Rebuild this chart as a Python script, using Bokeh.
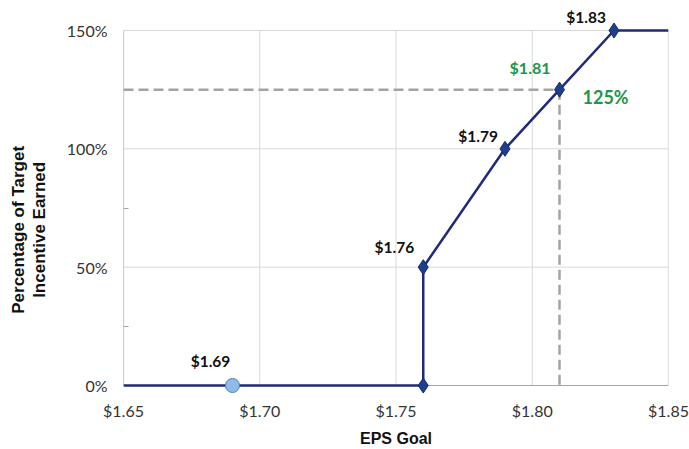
from bokeh.plotting import figure
from bokeh.models import Range1d, FixedTicker
from bokeh.core.properties import value
from bokeh.embed import file_html
from bokeh.resources import INLINE

# Data
curve_eps = [1.65, 1.69, 1.76, 1.76, 1.79, 1.81, 1.83, 1.85]
curve_pct = [0, 0, 0, 50, 100, 125, 150, 150]
diamond_eps = [1.76, 1.76, 1.79, 1.81, 1.83]
diamond_pct = [0, 50, 100, 125, 150]
threshold_eps = [1.69]
threshold_pct = [0]
label_eps = [1.69, 1.76, 1.79, 1.83]
label_pct = [0, 50, 100, 150]
label_text = ["$1.69", "$1.76", "$1.79", "$1.83"]
target_eps = 1.81
target_pct = 125
x_ticks = [1.65, 1.70, 1.75, 1.80, 1.85]
x_tick_labels = ["$1.65", "$1.70", "$1.75", "$1.80", "$1.85"]
y_ticks = [0, 50, 100, 150]
y_tick_labels = ["0%", "50%", "100%", "150%"]
y_minor = [25, 75, 125]
y_title_lines = ["Percentage of Target", "Incentive Earned"]
x_title = "EPS Goal"

# layout (pixels)
W, H = 689, 449
frame_left, frame_right = 123, 668
y0_px, y150_px = 385, 30
frame_top, frame_bottom = 8, 394
ppu = (y0_px - y150_px) / (y_ticks[-1] - y_ticks[0])
pad_top = (y150_px - frame_top) / ppu
pad_bot = (frame_bottom - y0_px) / ppu

p = figure(width=W, height=H, output_backend="svg", toolbar_location=None,
           x_range=Range1d(x_ticks[0], x_ticks[-1]),
           y_range=Range1d(y_ticks[0] - pad_bot, y_ticks[-1] + pad_top),
           min_border_left=frame_left, min_border_right=W - frame_right,
           min_border_top=frame_top, min_border_bottom=H - frame_bottom)
p.background_fill_color = "white"
p.border_fill_color = "white"
p.outline_line_color = None
p.grid.visible = False

# axes
p.xaxis.ticker = FixedTicker(ticks=x_ticks)
p.xaxis.major_label_overrides = {t: l for t, l in zip(x_ticks, x_tick_labels)}
p.yaxis.ticker = FixedTicker(ticks=y_ticks, minor_ticks=y_minor)
p.yaxis.major_label_overrides = {t: l for t, l in zip(y_ticks, y_tick_labels)}
for ax in (p.xaxis[0], p.yaxis[0]):
    ax.major_tick_in = 0
    ax.major_tick_out = 0
    ax.axis_line_color = None
    ax.major_label_text_font = "Lato"
    ax.major_label_text_font_size = "16px"
    ax.major_label_text_color = "#333333"
    ax.axis_label_text_font = "Liberation Sans"
    ax.axis_label_text_font_style = "bold"
    ax.axis_label_text_color = "#111111"
p.xaxis.axis_label_text_font_size = "16px"
p.yaxis.axis_label_text_font_size = "17px"
p.yaxis.axis_label_text_line_height = 1.1
p.xaxis.minor_tick_in = 0
p.xaxis.minor_tick_out = 0
p.yaxis.minor_tick_in = 5
p.yaxis.minor_tick_out = 0
p.yaxis.minor_tick_line_color = "#a6a6a6"
p.yaxis.major_label_standoff = 16
p.xaxis.major_label_standoff = 6
p.xaxis.axis_label = x_title
# trailing no-break spaces push the rotated title slightly downward, as in the reference
pad = "\u00a0" * 12
p.yaxis.axis_label = "\n".join(line + pad for line in y_title_lines)
p.yaxis.axis_label_standoff = 15
p.xaxis.axis_label_standoff = 7

# grid lines and plot box limited to the data area
inner_x = x_ticks[1:-1]
p.segment(x0=inner_x, y0=[y_ticks[0]] * len(inner_x), x1=inner_x, y1=[y_ticks[-1]] * len(inner_x),
          line_color="#d9d9d9", line_width=1)
p.segment(x0=[x_ticks[0]] * 3, y0=y_ticks[1:], x1=[x_ticks[-1]] * 3, y1=y_ticks[1:],
          line_color="#d9d9d9", line_width=1)
p.segment(x0=[x_ticks[-1]], y0=[y_ticks[0]], x1=[x_ticks[-1]], y1=[y_ticks[-1]],
          line_color="#cfcfcf", line_width=1.5)
p.segment(x0=[x_ticks[0]], y0=[y_ticks[0]], x1=[x_ticks[0]], y1=[y_ticks[-1]],
          line_color="#a6a6a6", line_width=1.2)
p.segment(x0=[x_ticks[0]], y0=[y_ticks[0]], x1=[x_ticks[-1]], y1=[y_ticks[0]],
          line_color="#a6a6a6", line_width=1)

# dashed target lines
dash_color = "#a7a39d"
p.line([x_ticks[0], target_eps], [target_pct, target_pct], line_color=dash_color,
       line_width=2.5, line_dash="10 5")
p.line([target_eps, target_eps], [target_pct, y_ticks[0]], line_color=dash_color,
       line_width=2.5, line_dash="10 5")

# main curve
p.line(curve_eps, curve_pct, line_color="#1f2a7c", line_width=2.5)
p.scatter(diamond_eps, diamond_pct, marker="diamond", size=15,
          fill_color="#1f3f8c", line_color="#142a66", line_width=1)
p.scatter(threshold_eps, threshold_pct, marker="circle", size=14,
          fill_color="#8ebce6", line_color="#4a7fbf", line_width=1)

# labels
p.text(x=label_eps, y=label_pct, text=label_text,
       x_offset=[-22, -9, -7, -8], y_offset=[-16, -11, -4, -5],
       text_align=["center", "right", "right", "right"], text_baseline="bottom",
       text_font=value("Lato"), text_font_style="bold", text_font_size="15.5px",
       text_color="#111111")
p.text(x=[target_eps], y=[target_pct], text=["$1.81"], x_offset=-9, y_offset=-13,
       text_align="right", text_baseline="bottom",
       text_font=value("Lato"), text_font_style="bold", text_font_size="16px",
       text_color="#23954a")
p.text(x=[target_eps], y=[target_pct], text=[f"{target_pct}%"], x_offset=23, y_offset=7,
       text_align="left", text_baseline="middle",
       text_font=value("Lato"), text_font_style="bold", text_font_size="18px",
       text_color="#23954a")

open("out.html", "w").write(file_html(p, INLINE))
